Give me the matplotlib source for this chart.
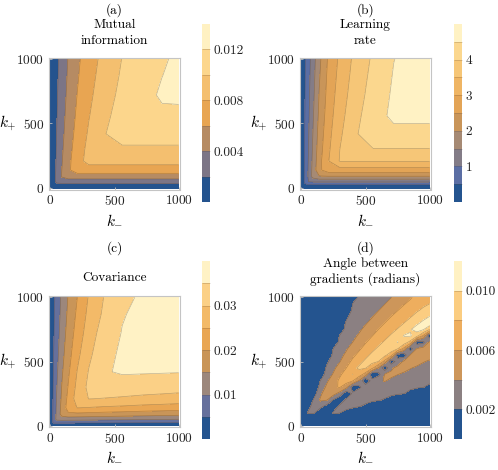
import numpy as np
import matplotlib
matplotlib.use('Agg')
import matplotlib.pyplot as plt

plt.rcParams['font.family'] = 'serif'
plt.rcParams['font.serif'] = ['cmr10']
plt.rcParams['mathtext.fontset'] = 'cm'
plt.rcParams['axes.formatter.use_mathtext'] = True

# grid of k_- (columns) and k_+ (rows) for panels a-c
k_grid = [0, 25, 50, 90, 140, 210, 300, 420, 560, 720, 870, 1000]

# (a) mutual information, in units of 1e-3
mutual_info = [
    [0, 0, 0, 0, 0, 0, 0, 0, 0, 0, 0, 0],
    [0, 1.3, 1.3, 1.3, 1.3, 1.3, 1.3, 1.3, 1.3, 1.3, 1.3, 1.3],
    [0, 1.29, 2.48, 2.8, 2.8, 2.8, 2.8, 2.8, 2.8, 2.8, 2.8, 2.8],
    [0, 1.26, 2.42, 4.12, 5.0, 5.0, 5.0, 5.0, 5.0, 5.0, 5.0, 5.0],
    [0, 1.22, 2.35, 4.02, 5.66, 7.0, 7.0, 7.0, 7.0, 7.0, 7.0, 7.0],
    [0, 1.17, 2.26, 3.87, 5.49, 7.19, 8.7, 8.7, 8.7, 8.7, 8.7, 8.7],
    [0, 1.11, 2.16, 3.70, 5.27, 6.96, 8.56, 9.7, 9.7, 9.7, 9.7, 9.7],
    [0, 1.04, 2.03, 3.48, 5.01, 6.66, 8.24, 9.91, 10.8, 10.8, 10.8, 10.8],
    [0, 0.97, 1.91, 3.27, 4.74, 6.35, 7.9, 9.53, 10.83, 11.7, 11.7, 11.7],
    [0, 0.9, 1.78, 3.06, 4.48, 6.04, 7.57, 9.15, 10.51, 11.52, 12.2, 12.25],
    [0, 0.85, 1.68, 2.88, 4.27, 5.79, 7.31, 8.84, 10.25, 11.28, 11.98, 12.4],
    [0, 0.8, 1.6, 2.75, 4.1, 5.6, 7.1, 8.6, 10.05, 11.1, 11.8, 12.3],
]

# (b) learning rate
learning_rate = [
    [0, 0, 0, 0, 0, 0, 0, 0, 0, 0, 0, 0],
    [0, 0.45, 0.45, 0.45, 0.45, 0.45, 0.45, 0.45, 0.45, 0.45, 0.45, 0.45],
    [0, 0.55, 0.99, 1.05, 1.05, 1.05, 1.05, 1.05, 1.05, 1.05, 1.05, 1.05],
    [0, 0.54, 0.97, 1.68, 1.96, 1.96, 1.96, 1.96, 1.96, 1.96, 1.96, 1.96],
    [0, 0.53, 0.96, 1.65, 2.39, 2.79, 2.79, 2.79, 2.79, 2.79, 2.79, 2.79],
    [0, 0.52, 0.93, 1.61, 2.34, 2.97, 3.53, 3.53, 3.53, 3.53, 3.53, 3.53],
    [0, 0.51, 0.90, 1.56, 2.27, 2.91, 3.50, 3.98, 3.98, 3.98, 3.98, 3.98],
    [0, 0.49, 0.87, 1.50, 2.20, 2.84, 3.42, 3.93, 4.37, 4.37, 4.37, 4.37],
    [0, 0.46, 0.83, 1.43, 2.11, 2.76, 3.33, 3.85, 4.30, 4.60, 4.60, 4.60],
    [0, 0.44, 0.80, 1.36, 2.03, 2.68, 3.24, 3.76, 4.21, 4.57, 4.75, 4.76],
    [0, 0.42, 0.76, 1.30, 1.95, 2.62, 3.16, 3.69, 4.14, 4.53, 4.70, 4.81],
    [0, 0.40, 0.74, 1.25, 1.88, 2.56, 3.10, 3.63, 4.08, 4.49, 4.66, 4.80],
]

# (c) covariance, in units of 1e-3
covariance = [
    [0, 0, 0, 0, 0, 0, 0, 0, 0, 0, 0, 0],
    [0, 6.2, 6.2, 6.1, 6.0, 5.9, 5.8, 5.7, 5.5, 5.3, 5.1, 4.98],
    [0, 6.6, 11.4, 11.9, 11.7, 11.6, 11.4, 11.1, 10.8, 10.5, 10.2, 9.98],
    [0, 6.4, 11.0, 17.0, 19.1, 18.8, 18.5, 18.1, 17.7, 17.2, 16.8, 16.4],
    [0, 6.2, 10.8, 16.5, 22.2, 25.1, 24.8, 24.3, 23.9, 23.3, 22.9, 22.5],
    [0, 5.9, 10.3, 15.9, 21.3, 27.4, 30.1, 29.8, 29.4, 28.8, 28.4, 28.0],
    [0, 5.6, 9.8, 15.2, 20.3, 26.4, 31.2, 33.2, 32.8, 32.5, 32.2, 31.9],
    [0, 5.2, 9.1, 14.3, 19.2, 25.2, 30.3, 34.6, 35.5, 35.4, 35.3, 35.2],
    [0, 4.9, 8.4, 13.3, 18.0, 23.7, 28.9, 33.6, 35.7, 36.6, 36.5, 36.3],
    [0, 4.4, 7.7, 12.3, 16.9, 22.1, 27.5, 32.4, 35.2, 36.7, 37.6, 37.5],
    [0, 4.1, 7.2, 11.5, 16.0, 20.9, 26.3, 30.9, 34.7, 36.1, 37.4, 37.8],
    [0, 3.8, 6.9, 11.0, 15.3, 19.98, 25.4, 30.2, 33.9, 35.7, 36.9, 38.0],
]

# (d) angle between gradients, in units of 1e-3
# one list per k_- column (0, 50, ..., 1000), values for k_+ = 0, 50, ..., 1000
k_grid_d = list(range(0, 1001, 50))
angle_cols = [
    [0] * 21,
    [0, 1.0, 2.1, 1.0] + [0] * 17,
    [0, 0, 2.2, 3.17, 2.44, 1.2] + [0] * 15,
    [0, 0, 0.4, 2.53, 4.28, 3.69, 2.92, 2.15, 0.4] + [0] * 12,
    [0, 0, 0, 1.2, 4.05, 5.02, 4.38, 3.75, 3.13, 2.5, 1.6] + [0] * 10,
    [0, 0.6, 2.3, 0.72, 1.85, 4.73, 5.76, 4.96, 4.16, 3.6, 3.1, 2.6, 2.1, 0.4] + [0] * 7,
    [0, 0, 2.05, 2.53, 0.5, 3.2, 6.12, 6.43, 5.64, 4.73, 3.91, 3.48, 3.04, 2.61, 2.17, 0.8, 0, 0, 0, 0, 0],
    [0, 0, 1.4, 2.64, 2.41, 0.5, 4.67, 6.91, 6.95, 5.98, 5.17, 4.33, 3.78, 3.41, 3.04, 2.67, 2.30, 1.6, 0, 0, 0],
    [0, 0, 0.8, 2.35, 3.23, 2.28, 1.0, 6.19, 8.02, 7.47, 6.42, 5.54, 4.77, 4.0, 3.68, 3.36, 3.04, 2.72, 2.40, 2.08, 0.52],
    [0, 0, 0.2, 2.09, 2.94, 3.53, 1.5, 3.83, 7.07, 8.32, 7.45, 6.55, 5.69, 4.92, 4.15, 3.78, 3.51, 3.24, 2.97, 2.70, 2.43],
    [0, 0, 0, 1.6, 2.59, 3.33, 3.23, 0.3, 5.2, 8.17, 8.35, 7.5, 6.67, 5.85, 5.08, 4.31, 3.86, 3.63, 3.40, 3.16, 2.93],
    [0, 0, 0, 1.0, 2.34, 3.01, 3.68, 2.65, 0.6, 6.57, 8.64, 8.36, 7.52, 6.72, 5.92, 5.15, 4.38, 3.9, 3.7, 3.49, 3.29],
    [0, 0, 0, 0.4, 2.15, 2.9, 3.64, 3.72, 1.2, 4.0, 8.0, 9.25, 8.30, 7.48, 6.74, 6.0, 5.23, 4.46, 3.93, 3.75, 3.57],
    [0, 0, 0, 0, 1.8, 2.62, 3.31, 4.1, 4.1, 0.56, 5.39, 8.52, 9.27, 8.25, 7.45, 6.72, 6.0, 5.25, 4.51, 3.95, 3.79],
    [0, 0, 0, 0, 1.2, 2.39, 3.03, 3.68, 4.36, 3.67, 0.8, 6.8, 9.16, 9.25, 8.21, 7.43, 6.71, 6.0, 5.27, 4.54, 3.96],
    [0, 0, 0, 0, 0.6, 2.19, 2.8, 3.42, 4.04, 4.52, 2.8, 1.2, 8.19, 10.05, 9.17, 8.1, 7.36, 6.64, 5.93, 5.24, 4.55],
    [0, 0, 0, 0, 0, 2.05, 2.59, 3.18, 3.76, 4.46, 4.38, 0.8, 5.44, 9.11, 10.1, 9.05, 8.0, 7.29, 6.57, 5.87, 5.2],
    [0, 0, 0, 0, 0, 1.4, 2.39, 2.94, 3.5, 4.08, 4.89, 4.23, 1.0, 7.3, 10.19, 9.84, 8.82, 7.86, 7.16, 6.46, 5.78],
    [0, 0, 0, 0, 0, 0.8, 2.21, 2.74, 3.26, 3.79, 4.49, 4.89, 4.08, 1.0, 8.67, 10.87, 9.6, 8.6, 7.76, 7.18, 6.59],
    [0, 0, 0, 0, 0, 0.2, 2.05, 2.55, 3.05, 3.55, 4.09, 4.94, 4.71, 1.5, 5.67, 10.22, 10.49, 9.3, 8.3, 7.62, 7.08],
    [0, 0, 0, 0, 0, 0, 1.6, 2.38, 2.86, 3.33, 3.81, 4.53, 5.4, 4.53, 0.5, 8.0, 11.37, 10.05, 9.0, 8.0, 7.44],
]

# colour bands per panel (bottom to top)
colors_a = ['#24538e', '#7c7586', '#b68b63', '#e8a552', '#f4bf6f', '#fcd68c', '#fff1c2']
colors_b = ['#24548f', '#5b6ea4', '#837c87', '#a68a74', '#c99559', '#e3a456',
            '#efb564', '#f6c677', '#fbd78e', '#fff2c4']
colors_c = ['#24548f', '#66709c', '#9c877c', '#c99558', '#e9a653', '#f3ba68', '#fbd086', '#fff2c5']
colors_d = ['#24548f', '#8b8082', '#cd965a', '#eeae5e', '#fbcd81', '#fff1c3']

W, H = 498, 470
FS = 9.6


def rect(l, t, r, b):
    return [l / W, 1 - b / H, (r - l) / W, (b - t) / H]


def panel(fig, ax_box, cb_box, kx, ky, z, levels, colors, ticks, ticklabels, titles):
    ax = fig.add_axes(rect(*ax_box))
    z = np.array(z)
    cs = ax.contourf(kx, ky, z, levels=levels, colors=colors)
    ax.contour(kx, ky, z, levels=levels[1:-1], colors=[(0.3, 0.22, 0.15, 0.35)], linewidths=0.5)
    ax.set_xlim(-10, 1010)
    ax.set_ylim(-10, 1010)
    ax.set_xticks([0, 500, 1000])
    ax.set_yticks([0, 500, 1000])
    ax.tick_params(direction='in', length=2.5, width=0.6, color='#bdbdbd',
                   labelsize=FS, labelcolor='#222222', pad=3.5)
    for s in ax.spines.values():
        s.set_color('#c4c4c4')
        s.set_linewidth(0.8)

    h = ax_box[3] - ax_box[1]
    w = ax_box[2] - ax_box[0]
    ax.text(0.5, -31 / h, r'$k_{-}$', transform=ax.transAxes, ha='center', va='center', fontsize=11)
    ax.text(-41 / w, 0.5, r'$k_{+}$', transform=ax.transAxes, ha='center', va='center', fontsize=11)

    cx = (ax_box[0] + ax_box[2]) / 2
    for text, y in titles:
        fig.text(cx / W, 1 - y / H, text, ha='center', va='center', fontsize=FS)

    cax = fig.add_axes(rect(*cb_box))
    cb = fig.colorbar(cs, cax=cax, ticks=ticks, drawedges=True)
    cb.set_ticklabels(ticklabels)
    cb.outline.set_visible(False)
    cb.dividers.set_color((0.35, 0.25, 0.15, 0.3))
    cb.dividers.set_linewidth(0.5)
    cax.tick_params(length=0, pad=2.5, labelsize=FS, labelcolor='#222222')
    return ax


fig = plt.figure(figsize=(W / 100, H / 100), dpi=100)

panel(fig, (49, 57.5, 180, 189.5), (202, 24, 210, 202), k_grid, k_grid, mutual_info,
      np.arange(0, 15, 2), colors_a, [4, 8, 12], ['0.004', '0.008', '0.012'],
      [('(a)', 10), ('Mutual', 25), ('information', 41)])

panel(fig, (300, 57.5, 431, 189.5), (454, 24, 462, 202), k_grid, k_grid, learning_rate,
      np.arange(0, 5.01, 0.5), colors_b, [1, 2, 3, 4], ['1', '2', '3', '4'],
      [('(b)', 10), ('Learning', 25), ('rate', 41)])

panel(fig, (49, 296, 180, 427), (202, 261, 210, 439), k_grid, k_grid, covariance,
      np.arange(0, 41, 5), colors_c, [10, 20, 30], ['0.01', '0.02', '0.03'],
      [('(c)', 248), ('Covariance', 278)])

panel(fig, (300, 296, 431, 427), (454, 261, 462, 439), k_grid_d, k_grid_d, np.array(angle_cols).T,
      np.arange(0, 13, 2), colors_d, [2, 6, 10], ['0.002', '0.006', '0.010'],
      [('(d)', 248), ('Angle between', 263.5), ('gradients (radians)', 279.5)])

fig.savefig('out.png', dpi=100)
